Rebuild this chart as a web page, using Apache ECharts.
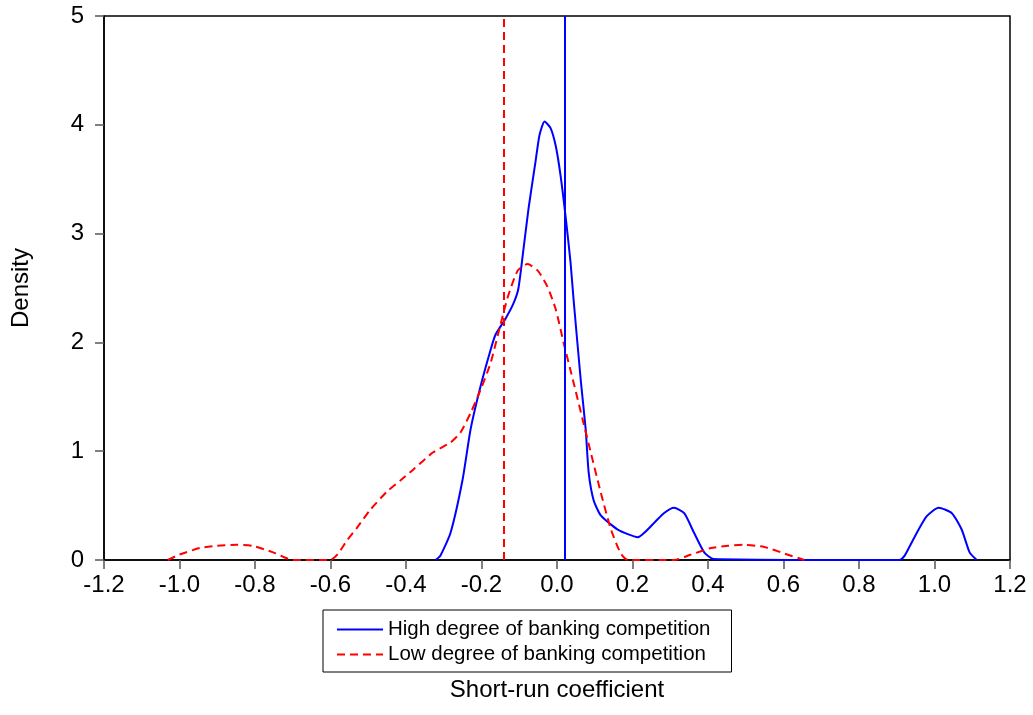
<!DOCTYPE html>
<html>
<head>
<meta charset="utf-8">
<script src="https://cdn.jsdelivr.net/npm/echarts@6/dist/echarts.min.js"></script>
<style>
html,body{margin:0;padding:0;background:#fff;}
#chart{width:1033px;height:715px;}
</style>
</head>
<body>
<div id="chart"></div>
<script>
// ---- data ----
var seriesNames = ['High degree of banking competition', 'Low degree of banking competition'];
var highCurve = [
  [-0.322,0],[-0.309,0.04],[-0.282,0.25],[-0.25,0.74],[-0.229,1.2],[-0.203,1.59],[-0.176,1.93],
  [-0.163,2.07],[-0.136,2.22],[-0.115,2.36],[-0.102,2.5],[-0.088,2.88],[-0.075,3.24],[-0.057,3.66],
  [-0.046,3.91],[-0.033,4.03],[-0.017,3.97],[-0.003,3.8],[0.010,3.52],[0.023,3.15],[0.036,2.73],
  [0.044,2.39],[0.063,1.65],[0.076,1.2],[0.084,0.8],[0.097,0.55],[0.116,0.41],[0.161,0.28],
  [0.214,0.21],[0.257,0.34],[0.283,0.43],[0.310,0.48],[0.337,0.43],[0.363,0.25],[0.390,0.07],
  [0.414,0.01],[0.908,0],[0.921,0.04],[0.947,0.21],[0.979,0.40],[1.011,0.48],[1.046,0.43],
  [1.072,0.28],[1.093,0.07],[1.112,0]
];
var lowCurve = [
  [-1.031,0],[-1.0,0.05],[-0.946,0.11],[-0.901,0.13],[-0.848,0.14],[-0.806,0.13],[-0.752,0.07],
  [-0.699,0],[-0.601,0],[-0.582,0.05],[-0.556,0.18],[-0.529,0.30],[-0.495,0.46],[-0.45,0.63],
  [-0.415,0.73],[-0.381,0.83],[-0.328,0.99],[-0.282,1.08],[-0.256,1.17],[-0.229,1.35],[-0.203,1.56],
  [-0.176,1.81],[-0.155,2.09],[-0.131,2.41],[-0.104,2.66],[-0.078,2.72],[-0.051,2.66],[-0.025,2.51],
  [-0.003,2.30],[0.018,1.99],[0.044,1.63],[0.068,1.29],[0.090,0.98],[0.116,0.62],[0.143,0.28],
  [0.169,0.06],[0.188,0],[0.310,0],[0.355,0.05],[0.408,0.11],[0.453,0.13],[0.496,0.14],
  [0.549,0.12],[0.602,0.06],[0.655,0]
];
var meanHigh = 0.023;
var meanLow = -0.144;
var xTickStep = 0.2;
var yTickStep = 1;

var FONT = '"Liberation Sans", Arial, sans-serif';
var chart = echarts.init(document.getElementById('chart'), null, {renderer:'canvas'});
chart.setOption({
  animation: false,
  backgroundColor: '#fff',
  grid: {left:104, right:23, top:16, bottom:155, show:true, borderColor:'#000', borderWidth:1.5, backgroundColor:'transparent'},
  xAxis: {
    type:'value', min:-1.2, max:1.2, interval:xTickStep,
    name:'Short-run coefficient', nameLocation:'middle', nameGap:118,
    nameTextStyle:{fontFamily:FONT, fontSize:24, color:'#000'},
    axisLine:{show:true, onZero:false, lineStyle:{color:'#000', width:1.5}},
    axisTick:{show:true, inside:false, length:9, lineStyle:{color:'#555', width:1.5}},
    axisLabel:{fontFamily:FONT, fontSize:24, color:'#000', margin:13, formatter:function(v){return v.toFixed(1);}},
    splitLine:{show:false}
  },
  yAxis: {
    type:'value', min:0, max:5, interval:yTickStep,
    name:'Density', nameLocation:'middle', nameGap:71, nameRotate:90,
    nameTextStyle:{fontFamily:FONT, fontSize:24, color:'#000'},
    axisLine:{show:true, onZero:false, lineStyle:{color:'#000', width:1.5}},
    axisTick:{show:true, inside:false, length:9, lineStyle:{color:'#555', width:1.5}},
    axisLabel:{fontFamily:FONT, fontSize:24, color:'#000', margin:20},
    splitLine:{show:false}
  },
  legend: {
    orient:'vertical', left:323, top:610,
    padding:[9,21,7,13], itemGap:4, itemWidth:46, itemHeight:14, itemTextGap:10,
    borderColor:'#000', borderWidth:1, backgroundColor:'#fff',
    itemStyle:{opacity:0},
    textStyle:{fontFamily:FONT, fontSize:20.5, color:'#000', lineHeight:20},
    data: seriesNames
  },
  series: [
    {
      name: seriesNames[0], type:'line', data: highCurve, symbol:'none', smooth:0.2,
      lineStyle:{color:'#0000FF', width:2}, itemStyle:{color:'#0000FF'},
      markLine:{silent:true, symbol:'none', label:{show:false},
        lineStyle:{color:'#0000FF', width:2, type:'solid'}, data:[{xAxis:meanHigh}]}
    },
    {
      name: seriesNames[1], type:'line', data: lowCurve, symbol:'none', smooth:0.2,
      lineStyle:{color:'#FF0000', width:2, type:[8,5]}, itemStyle:{color:'#FF0000'},
      markLine:{silent:true, symbol:'none', label:{show:false},
        lineStyle:{color:'#FF0000', width:2, type:[8,5]}, data:[{xAxis:meanLow}]}
    }
  ]
});
</script>
</body>
</html>
